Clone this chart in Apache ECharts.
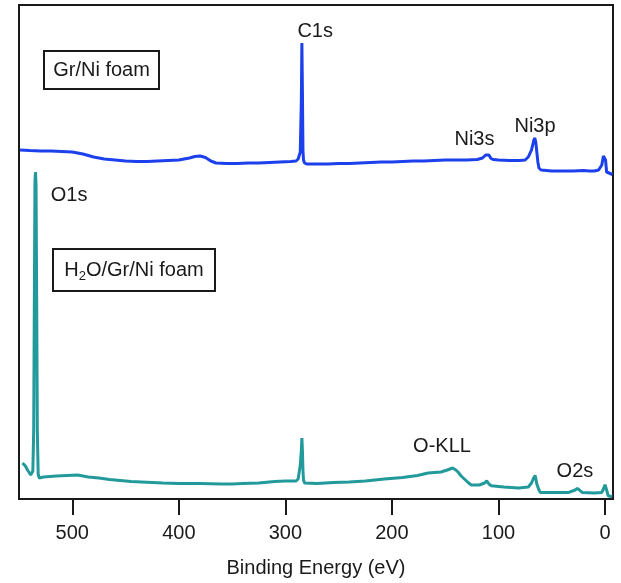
<!DOCTYPE html>
<html>
<head>
    <meta charset="utf-8">
    <title>XPS survey</title>
    <script src="https://cdn.jsdelivr.net/npm/echarts@6/dist/echarts.min.js"></script>
    <style>
        body { margin: 0; background: #fff; }
    </style>
</head>
<body>
<div id="main" style="width: 621px;height:583px;"></div>
<script type="text/javascript">
    // binding energy (eV) and intensity (arb. units)
    var grNiEnergy = [549, 540, 530, 520, 510, 500, 490, 480, 470, 460, 450, 440, 430, 420, 410, 400, 390, 385, 380, 375,
        370, 365, 355, 345, 335, 325, 315, 305, 295, 290, 288, 286, 285, 284.5, 284, 283.5, 283, 282, 280, 270,
        260, 250, 240, 230, 220, 210, 200, 190, 180, 170, 160, 150, 140, 130, 120, 115, 112, 110.5, 109, 107,
        105, 100, 90, 80, 75, 72, 69, 67, 66, 65, 64, 63, 62, 60, 50, 40, 30, 20, 15, 10,
        6, 3, 1.5, 0.5, -0.5, -1.5, -3, -7];
    var grNiCounts = [349, 348.5, 348, 348, 347.5, 347, 345, 342, 340, 339, 338, 337.5, 337.5, 338, 338.5, 339, 341, 342.5, 343, 341.5,
        338, 336, 335.5, 335.5, 336, 336, 336.5, 337, 337.5, 338, 340, 347, 399, 456, 409, 349, 339, 336, 335, 335,
        335, 335.5, 335.5, 336, 336.5, 337, 337, 337.5, 338, 338, 338.5, 339, 339, 339, 339.5, 341, 344, 345.5, 344, 340.5,
        339.5, 339, 338.5, 338.5, 339, 342, 349, 358, 361, 357, 347, 337, 331, 329, 328, 328, 328, 328.5, 328, 328,
        329, 334, 343, 345, 339, 327, 325, 324.5];

    var waterEnergy = [546.7, 544, 542, 539, 537, 536.2, 535.6, 535, 534.5, 534, 533.4, 532.8, 532, 531, 527, 515, 505, 495, 485, 475,
        465, 455, 445, 435, 425, 415, 400, 380, 360, 350, 340, 325, 310, 300, 290, 288, 286, 285, 284.5, 284,
        283.5, 283, 282, 270, 255, 240, 225, 207, 190, 176, 166, 160, 154, 148, 143, 140, 138, 135, 132, 128,
        125.5, 118, 113, 111, 109, 106.7, 95, 81, 72, 69, 67, 65.5, 64, 62, 60.8, 50, 34, 28, 26, 24,
        21.5, 10, 3, 1.5, 0, -1.5, -3, -6.8];
    var waterCounts = [36, 33, 29, 24, 28, 69, 199, 319, 327, 314, 199, 69, 25, 21, 22, 23, 23.5, 24, 22, 21,
        19.5, 18.5, 17.5, 17, 16.5, 16, 15.5, 15.5, 15, 15, 15.5, 16, 17.5, 18, 18, 20, 34, 49, 61, 49,
        29, 19, 16, 15.5, 16.5, 17, 18, 20, 21.5, 23.5, 26, 26.5, 27, 29, 31, 29, 27, 23, 20, 16,
        14, 14, 16, 18.3, 15, 13.3, 12, 11, 12, 16, 21, 23.4, 15, 9, 6.6, 6.5, 6.6, 9, 10.6, 9,
        6.6, 6, 6.6, 10, 14.3, 9, 3.2, 2.2];

    var tickValues = [0, 100, 200, 300, 400, 500];

    // peak labels: text, anchor [eV, counts]
    var peakNames = ['C1s', 'Ni3s', 'Ni3p', 'O1s', 'O-KLL', 'O2s'];
    var peakAnchors = [[272, 468], [122.5, 360], [65.7, 373], [503, 304], [153, 53], [28.2, 28]];

    function pairs(xs, ys) {
        return xs.map(function (x, i) { return [x, ys[i]]; });
    }

    var chartDom = document.getElementById('main');
    var myChart = echarts.init(chartDom);
    var font = 'Liberation Sans, Arial, sans-serif';

    var option = {
        animation: false,
        backgroundColor: '#fff',
        grid: {
            left: 19, right: 8, top: 5, bottom: 84,
            show: true,
            borderColor: '#1a1a1a',
            borderWidth: 2
        },
        xAxis: {
            type: 'value',
            inverse: true,
            min: -7.5,
            max: 550,
            name: 'Binding Energy (eV)',
            nameLocation: 'middle',
            nameGap: 59,
            nameTextStyle: { fontSize: 20, color: '#1a1a1a', fontFamily: font },
            axisLine: { show: false },
            axisTick: {
                show: true, length: 16, inside: false,
                customValues: tickValues,
                lineStyle: { color: '#1a1a1a', width: 2 }
            },
            axisLabel: {
                customValues: tickValues,
                margin: 24,
                fontSize: 20,
                color: '#1a1a1a',
                fontFamily: font
            },
            splitLine: { show: false }
        },
        yAxis: {
            type: 'value',
            min: 0,
            max: 494,
            show: false
        },
        series: [
            {
                name: 'Gr/Ni foam',
                type: 'line',
                data: pairs(grNiEnergy, grNiCounts),
                showSymbol: false,
                lineStyle: { color: '#1c40ec', width: 3 }
            },
            {
                name: 'H2O/Gr/Ni foam',
                type: 'line',
                data: pairs(waterEnergy, waterCounts),
                showSymbol: false,
                lineStyle: { color: '#22999a', width: 3 }
            }
        ]
    };
    myChart.setOption(option);

    // annotations
    var graphics = [];
    peakNames.forEach(function (name, i) {
        var p = myChart.convertToPixel({ gridIndex: 0 }, peakAnchors[i]);
        graphics.push({
            type: 'text', x: p[0], y: p[1],
            style: {
                text: name, fontSize: 20, fontFamily: font, fill: '#1a1a1a',
                align: 'center', verticalAlign: 'middle'
            }
        });
    });
    // sample boxes
    graphics.push({
        type: 'rect', shape: { x: 44, y: 51, width: 115, height: 38 },
        style: { fill: '#fff', stroke: '#1a1a1a', lineWidth: 2 }
    });
    graphics.push({
        type: 'text', x: 101.5, y: 70,
        style: {
            text: 'Gr/Ni foam', fontSize: 20, fontFamily: font, fill: '#1a1a1a',
            align: 'center', verticalAlign: 'middle'
        }
    });
    graphics.push({
        type: 'rect', shape: { x: 53, y: 249, width: 162, height: 42 },
        style: { fill: '#fff', stroke: '#1a1a1a', lineWidth: 2 }
    });
    graphics.push({
        type: 'text', x: 134, y: 270,
        style: {
            text: '{n|H}{s|2}{n|O/Gr/Ni foam}',
            align: 'center', verticalAlign: 'middle',
            rich: {
                n: { fontSize: 20, fontFamily: font, fill: '#1a1a1a', color: '#1a1a1a' },
                s: { fontSize: 13, fontFamily: font, fill: '#1a1a1a', color: '#1a1a1a', padding: [12, 0, 0, 0] }
            }
        }
    });
    myChart.setOption({ graphic: graphics });
</script>
</body>
</html>
